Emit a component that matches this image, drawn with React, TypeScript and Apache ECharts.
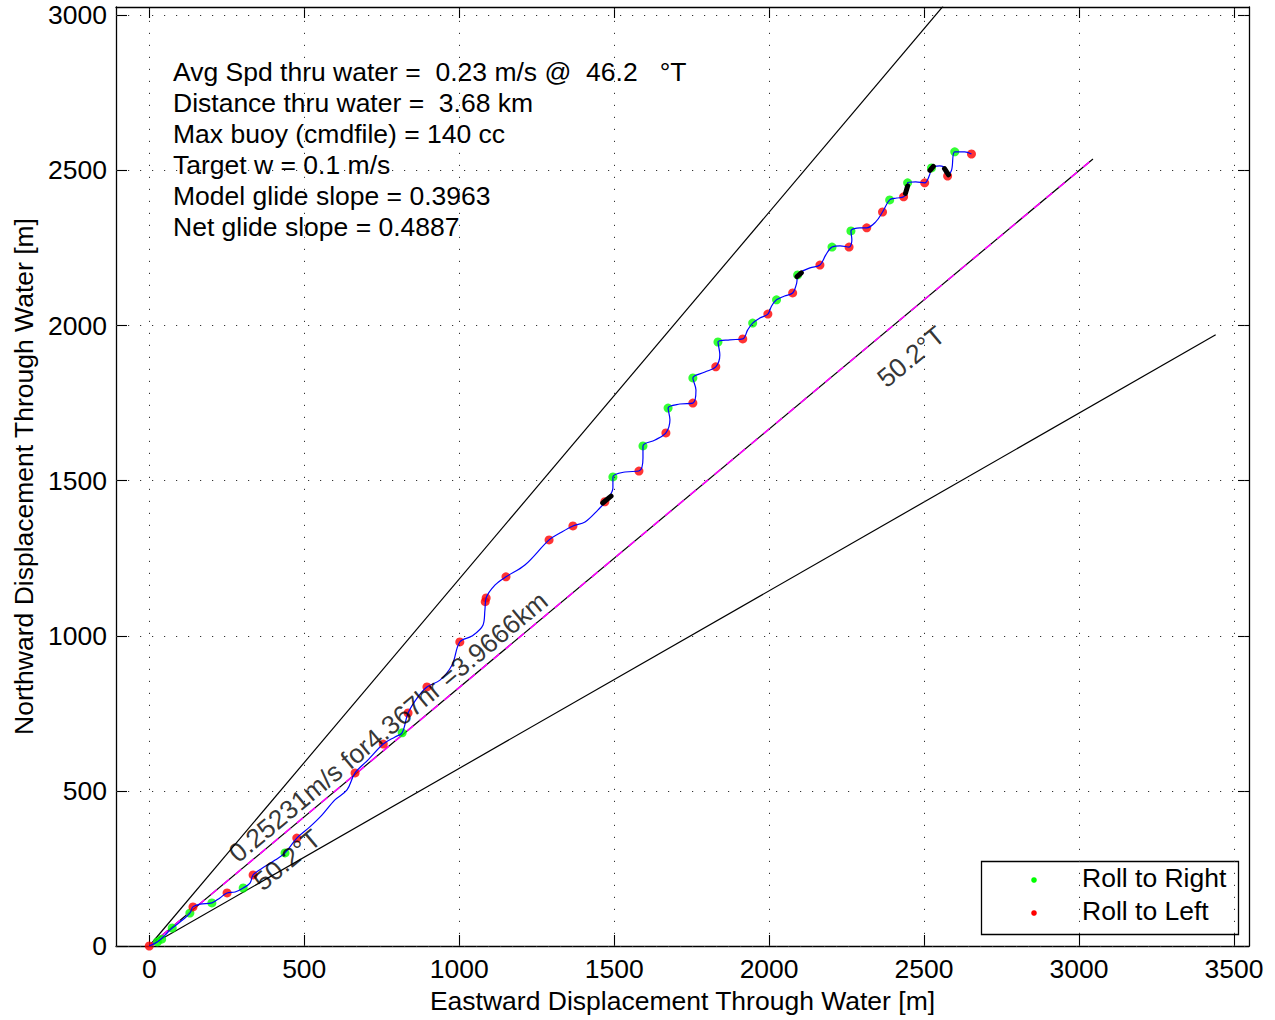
import React, { useEffect, useRef } from 'react';
import * as echarts from 'echarts';

const xTicks = [0, 500, 1000, 1500, 2000, 2500, 3000, 3500];
const yTicks = [0, 500, 1000, 1500, 2000, 2500, 3000];
const xRange = [-107.4, 3548.5];
const yRange = [0, 3026.8];

// glider track through water [east, north] in metres
const track: number[][] = [
  [0, 0], [26, 13], [51, 35], [74, 58], [99, 77], [131, 106], [141, 126], [164, 135], [202, 139],
  [228, 155], [251, 171], [277, 174], [303, 187], [325, 203], [335, 229], [364, 251], [406, 277],
  [438, 300], [476, 348], [518, 384], [557, 422], [599, 471], [638, 503], [664, 558], [706, 600],
  [755, 651], [793, 674], [816, 687], [835, 751], [867, 803], [896, 835], [938, 857], [977, 906],
  [1002, 980], [1041, 999], [1077, 1035], [1083, 1083], [1087, 1122], [1116, 1164], [1151, 1190],
  [1212, 1228], [1290, 1309], [1325, 1331], [1367, 1354], [1406, 1367], [1448, 1406], [1477, 1438],
  [1496, 1476], [1496, 1512], [1535, 1528], [1580, 1531], [1593, 1573], [1593, 1612], [1632, 1631],
  [1667, 1654], [1680, 1696], [1674, 1734], [1712, 1747], [1754, 1750], [1764, 1792], [1754, 1831],
  [1793, 1850], [1828, 1867], [1841, 1905], [1835, 1947], [1873, 1954], [1915, 1957], [1931, 1986],
  [1947, 2008], [1970, 2024], [1996, 2037], [2008, 2063], [2024, 2083], [2050, 2095], [2076, 2105],
  [2089, 2137], [2092, 2163], [2132, 2186], [2164, 2195], [2183, 2228], [2203, 2253], [2229, 2257],
  [2258, 2253], [2267, 2276], [2264, 2305], [2293, 2315], [2315, 2315], [2344, 2334], [2366, 2366],
  [2389, 2405], [2412, 2411], [2434, 2415], [2447, 2437], [2447, 2460], [2473, 2463], [2502, 2460],
  [2518, 2486], [2524, 2508], [2550, 2515], [2573, 2502], [2576, 2482], [2589, 2502], [2599, 2560],
  [2631, 2560], [2653, 2553],
];

const rollRight: number[][] = [
  [26, 13], [40, 22], [74, 58], [131, 106], [202, 139], [303, 187], [438, 300], [816, 687],
  [1496, 1512], [1593, 1612], [1674, 1734], [1754, 1831], [1835, 1947], [1947, 2008], [2024, 2083],
  [2092, 2163], [2203, 2253], [2264, 2305], [2389, 2405], [2447, 2460], [2524, 2508], [2599, 2560],
];

const rollLeft: number[][] = [
  [0, 0], [141, 126], [251, 171], [335, 229], [476, 348], [664, 558], [755, 651], [835, 751],
  [896, 835], [1002, 980], [1087, 1122], [1084, 1110], [1151, 1190], [1290, 1309], [1367, 1354],
  [1470, 1432], [1580, 1531], [1667, 1654], [1754, 1750], [1828, 1867], [1915, 1957], [1996, 2037],
  [2076, 2105], [2164, 2195], [2258, 2253], [2315, 2315], [2366, 2366], [2434, 2415], [2502, 2460],
  [2576, 2482], [2653, 2553],
];

const blackSegments: (number[] | null)[] = [
  [1463, 1428], [1490, 1450], null,
  [2090, 2158], [2104, 2170], null,
  [2440, 2426], [2447, 2450], null,
  [2519, 2500], [2530, 2513], null,
  [2566, 2506], [2579, 2486],
];

const heading402: number[][] = [[0, 0], [2561, 3029]];
const heading502: number[][] = [[0, 0], [3045, 2537]];
const heading602: number[][] = [[0, 0], [3441, 1970]];

const infoLines = [
  'Avg Spd thru water =  0.23 m/s @  46.2   °T',
  'Distance thru water =  3.68 km',
  'Max buoy (cmdfile) = 140 cc',
  'Target w = 0.1 m/s',
  'Model glide slope = 0.3963',
  'Net glide slope = 0.4887',
];

const annotations = [
  { pos: [771, 706], text: '0.25231m/s for4.367hr =3.9666km', rotate: 39.8 },
  { pos: [445, 277], text: '50.2°T', rotate: 39.8 },
  { pos: [2458, 1899], text: '50.2°T', rotate: 39.8 },
];

const FONT = 'Liberation Sans, Arial, Helvetica, sans-serif';
const FS = 26.5;

export default function App() {
  const ref = useRef<HTMLDivElement>(null);
  useEffect(() => {
    if (!ref.current) return;
    const chart = echarts.init(ref.current, undefined, { renderer: 'svg' });
    const axisLine = { show: true, onZero: false, lineStyle: { color: '#000', width: 1.3 } };
    const tickStyle = { color: '#000', width: 1.1 };
    const gridLine = { type: [1.2, 10.8] as any, color: '#333', width: 1 };
    const plain = (v: number) => String(v);
    const option: any = {
      animation: false,
      backgroundColor: '#fff',
      grid: { left: 116, top: 7, width: 1133, height: 939, containLabel: false, outerBoundsMode: 'none' },
      xAxis: [
        {
          type: 'value', min: xRange[0], max: xRange[1], position: 'bottom',
          axisLine,
          axisTick: { show: true, inside: true, length: 11, customValues: xTicks, lineStyle: tickStyle },
          axisLabel: { customValues: xTicks, formatter: plain, fontSize: FS, color: '#000', fontFamily: FONT, margin: 9 },
          splitLine: { show: false },
          name: 'Eastward Displacement Through Water [m]', nameLocation: 'middle', nameGap: 41,
          nameTextStyle: { fontSize: FS, color: '#000', fontFamily: FONT },
        },
        {
          type: 'value', min: xRange[0], max: xRange[1], position: 'top',
          axisLine,
          axisTick: { show: true, inside: true, length: 11, customValues: xTicks, lineStyle: tickStyle },
          axisLabel: { show: false },
          splitLine: { show: false },
        },
      ],
      yAxis: [
        {
          type: 'value', min: yRange[0], max: yRange[1], position: 'left',
          axisLine,
          axisTick: { show: true, inside: true, length: 11, customValues: yTicks, lineStyle: tickStyle },
          axisLabel: { customValues: yTicks, formatter: plain, fontSize: FS, color: '#000', fontFamily: FONT, margin: 9 },
          splitLine: { show: false },
          name: 'Northward Displacement Through Water [m]', nameLocation: 'middle', nameGap: 75,
          nameTextStyle: { fontSize: FS, color: '#000', fontFamily: FONT },
        },
        {
          type: 'value', min: yRange[0], max: yRange[1], position: 'right',
          axisLine,
          axisTick: { show: true, inside: true, length: 11, customValues: yTicks, lineStyle: tickStyle },
          axisLabel: { show: false },
          splitLine: { show: false },
        },
      ],
      series: [
        {
          type: 'line', name: 'grid', data: [], z: 1, silent: true, symbol: 'none',
          markLine: {
            silent: true, symbol: 'none', label: { show: false },
            lineStyle: gridLine, emphasis: { disabled: true },
            data: [
              ...xTicks.map((v) => ({ xAxis: v })),
              ...yTicks.map((v) => ({ yAxis: v })),
            ],
          },
        },
        { type: 'line', data: heading402, symbol: 'none', z: 2, lineStyle: { color: '#000', width: 1.2 } },
        { type: 'line', data: heading502, symbol: 'none', z: 2, lineStyle: { color: '#000', width: 1.2 } },
        { type: 'line', data: heading602, symbol: 'none', z: 2, lineStyle: { color: '#000', width: 1.2 } },
        { type: 'line', data: heading502, symbol: 'none', z: 3, lineStyle: { color: '#ff00ff', width: 1.6, type: [8, 8] } },
        { type: 'scatter', name: 'Roll to Right', data: rollRight, symbolSize: 9, z: 4, itemStyle: { color: '#00ff00' } },
        { type: 'scatter', name: 'Roll to Left', data: rollLeft, symbolSize: 9, z: 4, itemStyle: { color: '#ff0000' } },
        { type: 'line', data: track, symbol: 'none', smooth: 0.35, z: 5, lineStyle: { color: '#0000ff', width: 1.2 } },
        { type: 'line', data: blackSegments, symbol: 'none', connectNulls: false, z: 6, lineStyle: { color: '#000', width: 5, cap: 'round' } },
        {
          type: 'scatter', z: 7, symbolSize: 0.1, itemStyle: { color: 'rgba(0,0,0,0)' }, silent: true,
          data: annotations.map((a) => ({
            value: a.pos,
            label: {
              show: true, position: 'inside', formatter: a.text, rotate: a.rotate,
              fontSize: FS, color: '#000', fontFamily: FONT, align: 'center', verticalAlign: 'middle',
            },
          })),
        },
      ],
      graphic: [
        ...infoLines.map((t, i) => ({
          type: 'text', left: 173, top: 74 + i * 31 - FS * 0.6, silent: true,
          style: { text: t, fontSize: FS, fill: '#000', fontFamily: FONT },
        })),
        {
          type: 'rect', left: 979, top: 859, silent: true,
          shape: { width: 257, height: 73 },
          style: { fill: 'none', stroke: '#000', lineWidth: 1.3 },
        },
        { type: 'circle', shape: { cx: 1034, cy: 880, r: 2.8 }, style: { fill: '#00ff00' }, silent: true },
        { type: 'circle', shape: { cx: 1034, cy: 913, r: 2.8 }, style: { fill: '#ff0000' }, silent: true },
        {
          type: 'text', left: 1082, top: 880 - FS * 0.6, silent: true,
          style: { text: 'Roll to Right', fontSize: FS, fill: '#000', fontFamily: FONT },
        },
        {
          type: 'text', left: 1082, top: 913 - FS * 0.6, silent: true,
          style: { text: 'Roll to Left', fontSize: FS, fill: '#000', fontFamily: FONT },
        },
      ],
    };
    chart.setOption(option);
    return () => chart.dispose();
  }, []);
  return (
    <div
      ref={ref}
      style={{ position: 'fixed', left: 0, top: 0, width: 1275, height: 1020, background: '#fff' }}
    />
  );
}
